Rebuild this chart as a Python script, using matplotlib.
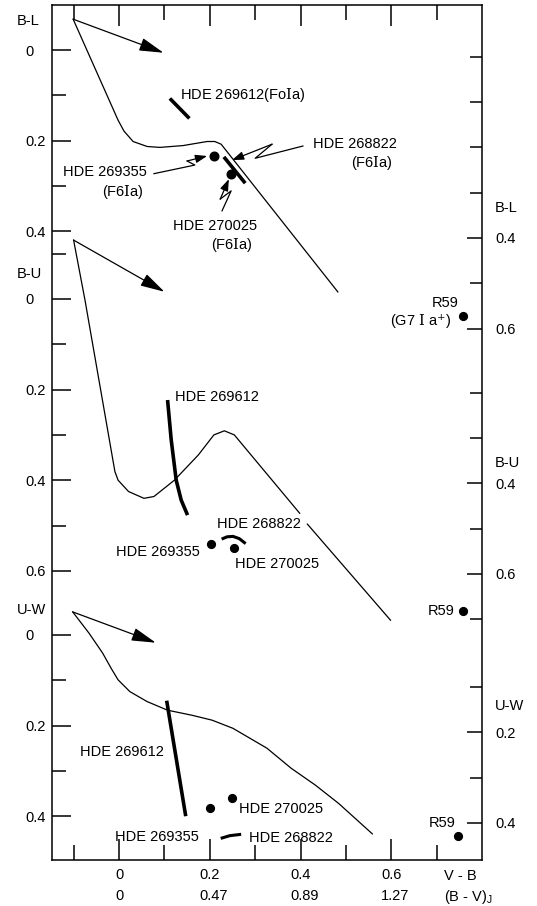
import numpy as np
import matplotlib
matplotlib.use("Agg")
import matplotlib.pyplot as plt
from matplotlib import transforms

plt.rcParams["font.family"] = ["Liberation Sans", "DejaVu Sans"]
plt.rcParams["font.size"] = 10.5
plt.rcParams["mathtext.fontset"] = "dejavuserif"  # o "I" romano com serifa

nan = np.nan

# eixo horizontal (V - B) e escala equivalente (B - V)_J
XTICKS_MAJOR = [0, 0.2, 0.4, 0.6]
XTICKS_MINOR = [-0.1, 0.1, 0.3, 0.5, 0.7]
XLABELS_VB = ["0", "0.2", "0.4", "0.6"]
XLABELS_BVJ = ["0", "0.47", "0.89", "1.27"]

# ---- painel B-L ----
BL_CURVE_X = [-0.101, -0.002, 0.011, 0.031, 0.062, 0.090, 0.141, 0.194, 0.211, 0.225, 0.240, 0.482]
BL_CURVE_Y = [-0.068, 0.155, 0.179, 0.202, 0.213, 0.215, 0.211, 0.202, 0.202, 0.208, 0.227, 0.534]
BL_ARROW_TIP = (0.098, 0.006)
BL_269612_X = [0.112, 0.155]
BL_269612_Y = [0.107, 0.151]
BL_268822_X = [0.231, 0.278]
BL_268822_Y = [0.236, 0.294]
BL_DOTS_X = [0.210, 0.247]          # HDE 269355, HDE 270025
BL_DOTS_Y = [0.234, 0.273]
BL_R59 = (0.757, 0.572)             # escala da direita
# setas em zigue-zague (rotulo -> estrela)
BL_Z269355_X = [0.077, 0.167, 0.150, 0.194]
BL_Z269355_Y = [0.273, 0.254, 0.245, 0.234]
BL_Z268822_X = [0.405, 0.300, 0.337, 0.249]
BL_Z268822_Y = [0.212, 0.239, 0.208, 0.243]
BL_Z270025_X = [0.227, 0.247, 0.223, 0.242]
BL_Z270025_Y = [0.355, 0.311, 0.329, 0.285]

# ---- painel B-U ----
BU_CURVE_X = [-0.100, -0.075, -0.009, -0.002, 0.021, 0.055, 0.077, 0.122, 0.175, 0.209, 0.232, 0.254, 0.398, nan, 0.415, 0.598]
BU_CURVE_Y = [-0.130, 0.002, 0.381, 0.400, 0.425, 0.440, 0.436, 0.400, 0.344, 0.300, 0.291, 0.300, 0.473, nan, 0.497, 0.709]
BU_ARROW_TIP = (0.100, -0.016)
BU_269612_X = [0.107, 0.115, 0.126, 0.137, 0.151]
BU_269612_Y = [0.223, 0.311, 0.400, 0.444, 0.477]
BU_268822_X = [0.226, 0.238, 0.251, 0.265, 0.279]
BU_268822_Y = [0.530, 0.525, 0.524, 0.529, 0.540]
BU_DOTS_X = [0.203, 0.253]
BU_DOTS_Y = [0.541, 0.550]
BU_R59 = (0.757, 0.683)

# ---- painel U-W ----
UW_CURVE_X = [-0.102, -0.066, -0.036, -0.017, -0.002, 0.024, 0.062, 0.107, 0.160, 0.205, 0.251, 0.326, 0.379, 0.432, 0.484, 0.558]
UW_CURVE_Y = [-0.051, -0.004, 0.040, 0.074, 0.099, 0.125, 0.147, 0.166, 0.177, 0.188, 0.206, 0.250, 0.294, 0.331, 0.372, 0.439]
UW_ARROW_TIP = (0.081, 0.017)
UW_269612_X = [0.105, 0.147]
UW_269612_Y = [0.145, 0.400]
UW_268822_X = [0.224, 0.244, 0.269]
UW_268822_Y = [0.449, 0.443, 0.440]
UW_DOTS_X = [0.201, 0.249]
UW_DOTS_Y = [0.381, 0.359]
UW_R59 = (0.747, 0.428)

# geometria da figura (pixels da imagem original)
W, H = 537, 906
BOX_L, BOX_R, BOX_T, BOX_B = 51.7, 481.7, 4.5, 860.0
X0_PX, PX_X, PX_Y = 119.0, 454.0, 453.0

LW_FINO = 0.9
LW_GROSSO = 2.6
MS = 5.6

fig = plt.figure(figsize=(W / 100, H / 100), dpi=100)
pos = [BOX_L / W, 1 - BOX_B / H, (BOX_R - BOX_L) / W, (BOX_B - BOX_T) / H]

ax0 = fig.add_axes(pos)
ax0.set_xlim((BOX_L - X0_PX) / PX_X, (BOX_R - X0_PX) / PX_X)
ax0.set_ylim(0, 1)
ax0.set_yticks([])
for s in ax0.spines.values():
    s.set_linewidth(1.1)
ax0.set_xticks(XTICKS_MAJOR, XLABELS_VB)
ax0.set_xticks(XTICKS_MINOR, minor=True)
ax0.tick_params(axis="x", which="both", direction="in", top=True, bottom=True,
                width=1.1, pad=6)
ax0.tick_params(axis="x", which="major", length=15)
ax0.tick_params(axis="x", which="minor", length=11)


def fmt(v):
    return "0" if v == 0 else f"{v:g}"


def painel(zero_px, shift, left_major, left_minor, right_major, right_minor):
    """Cria um eixo transparente sobreposto com a escala vertical do painel."""
    ax = fig.add_axes(pos, sharex=ax0)
    ax.patch.set_visible(False)
    for s in ax.spines.values():
        s.set_visible(False)
    ax.set_ylim((BOX_B - zero_px) / PX_Y, (BOX_T - zero_px) / PX_Y)
    ax.tick_params(axis="x", which="both", bottom=False, top=False,
                   labelbottom=False, labeltop=False)
    ax.set_yticks(left_major, [fmt(v) for v in left_major])
    ax.set_yticks(left_minor, minor=True)
    ax.tick_params(axis="y", which="both", direction="in", width=1.1, pad=19.2)
    ax.tick_params(axis="y", which="major", length=14)
    ax.tick_params(axis="y", which="minor", length=10)
    plt.setp(ax.get_yticklabels(), ha="left")

    axr = ax.twinx()
    axr.patch.set_visible(False)
    for s in axr.spines.values():
        s.set_visible(False)
    lo, hi = ax.get_ylim()
    axr.set_ylim(lo - shift, hi - shift)
    axr.set_yticks(right_major, [fmt(v) for v in right_major])
    axr.set_yticks(right_minor, minor=True)
    axr.tick_params(axis="y", which="both", direction="in", width=1.1, pad=9.6)
    axr.tick_params(axis="y", which="major", length=11)
    axr.tick_params(axis="y", which="minor", length=9)
    return ax, axr


def seta_grande(ax, x0, y0, tip):
    ax.annotate("", xy=tip, xytext=(x0, y0),
                arrowprops=dict(arrowstyle="-|>,head_length=1.0,head_width=0.27",
                                mutation_scale=15, lw=LW_FINO, color="k",
                                shrinkA=0, shrinkB=0))


def raio(ax, xs, ys):
    """Seta em zigue-zague ligando o rotulo a estrela."""
    ax.plot(xs[:-1], ys[:-1], color="k", lw=LW_FINO)
    ax.annotate("", xy=(xs[-1], ys[-1]), xytext=(xs[-2], ys[-2]),
                arrowprops=dict(arrowstyle="-|>,head_length=0.7,head_width=0.25",
                                mutation_scale=10, lw=LW_FINO, color="k",
                                shrinkA=0, shrinkB=0))


def rotulo_lado(ax, axr, nome, y_left, y_right):
    tl = transforms.blended_transform_factory(ax.transAxes, ax.transData)
    tr = transforms.blended_transform_factory(axr.transAxes, axr.transData)
    ax.text((17 - BOX_L) / (BOX_R - BOX_L), y_left, nome, transform=tl,
            ha="left", va="center")
    axr.text((494.5 - BOX_L) / (BOX_R - BOX_L), y_right, nome, transform=tr,
             ha="left", va="center")


Ia = r"$\mathrm{I}$a"
F6 = "(F6" + Ia + ")"

# ---------------- B-L ----------------
axL, axLr = painel(50.0, 0.0148, [0, 0.2, 0.4], [0.1, 0.3], [0.4, 0.6], [0, 0.1, 0.2, 0.3, 0.5])
axL.plot(BL_CURVE_X, BL_CURVE_Y, color="k", lw=LW_FINO)
seta_grande(axL, BL_CURVE_X[0], BL_CURVE_Y[0], BL_ARROW_TIP)
axL.plot(BL_269612_X, BL_269612_Y, color="k", lw=LW_GROSSO, solid_capstyle="butt")
axL.plot(BL_268822_X, BL_268822_Y, color="k", lw=LW_GROSSO, solid_capstyle="butt")
axL.plot(BL_DOTS_X, BL_DOTS_Y, "o", color="k", ms=MS + 0.6)
raio(axL, BL_Z269355_X, BL_Z269355_Y)
raio(axL, BL_Z268822_X, BL_Z268822_Y)
raio(axL, BL_Z270025_X, BL_Z270025_Y)
axLr.plot([BL_R59[0]], [BL_R59[1]], "o", color="k", ms=MS)
axL.text(0.1335, 0.099, "HDE 269612(Fo" + Ia + ")", va="center")
axL.text(-0.1227, 0.269, "HDE 269355", va="center")
axL.text(-0.0381, 0.313, F6, va="center")
axL.text(0.4273, 0.208, "HDE 268822", va="center")
axL.text(0.511, 0.250, F6, va="center")
axL.text(0.1196, 0.3885, "HDE 270025", va="center")
axL.text(0.202, 0.4305, F6, va="center")
axLr.text(0.6894, 0.544, "R59", va="center")
axLr.text(0.5969, 0.583, r"(G7 $\mathrm{I}$ a$^{+}$)", va="center")
rotulo_lado(axL, axLr, "B-L", -0.063, 0.333)

# ---------------- B-U ----------------
axU, axUr = painel(299.0, 0.0068, [0, 0.2, 0.4, 0.6], [-0.1, 0.1, 0.3, 0.5], [0.4, 0.6], [0.2, 0.3, 0.5, 0.7])
axU.plot(BU_CURVE_X, BU_CURVE_Y, color="k", lw=LW_FINO)
seta_grande(axU, BU_CURVE_X[0], BU_CURVE_Y[0], BU_ARROW_TIP)
axU.plot(BU_269612_X, BU_269612_Y, color="k", lw=LW_GROSSO, solid_capstyle="butt")
axU.plot(BU_268822_X, BU_268822_Y, color="k", lw=LW_GROSSO - 0.4, solid_capstyle="butt")
axU.plot(BU_DOTS_X, BU_DOTS_Y, "o", color="k", ms=MS)
axUr.plot([BU_R59[0]], [BU_R59[1]], "o", color="k", ms=MS)
axU.text(0.1225, 0.2157, "HDE 269612", va="center")
axU.text(0.2167, 0.4974, "HDE 268822", va="center")
axU.text(-0.0073, 0.5578, "HDE 269355", va="center")
axU.text(0.2566, 0.5857, "HDE 270025", va="center")
axUr.text(0.6806, 0.681, "R59", va="center")
rotulo_lado(axU, axUr, "B-U", -0.055, 0.3545)

# ---------------- U-W ----------------
axW, axWr = painel(635.0, 0.015, [0, 0.2, 0.4], [0.1, 0.3], [0.2, 0.4], [0.1, 0.3])
axW.plot(UW_CURVE_X, UW_CURVE_Y, color="k", lw=LW_FINO)
seta_grande(axW, UW_CURVE_X[0], UW_CURVE_Y[0], UW_ARROW_TIP)
axW.plot(UW_269612_X, UW_269612_Y, color="k", lw=LW_GROSSO, solid_capstyle="butt")
axW.plot(UW_268822_X, UW_268822_Y, color="k", lw=LW_GROSSO - 0.4, solid_capstyle="butt")
axW.plot(UW_DOTS_X, UW_DOTS_Y, "o", color="k", ms=MS)
axWr.plot([UW_R59[0]], [UW_R59[1]], "o", color="k", ms=MS)
axW.text(-0.085, 0.2576, "HDE 269612", va="center")
axW.text(0.2634, 0.3848, "HDE 270025", va="center")
axW.text(-0.0079, 0.4453, "HDE 269355", va="center")
axW.text(0.287, 0.4481, "HDE 268822", va="center")
axWr.text(0.6813, 0.3993, "R59", va="center")
rotulo_lado(axW, axWr, "U-W", -0.055, 0.1417)

# ---- legendas do eixo x: segunda linha alinhada a esquerda da primeira ----
tb = transforms.blended_transform_factory(ax0.transData, ax0.transAxes)
y_lin1 = (BOX_B - 876) / (BOX_B - BOX_T)
y_lin2 = (BOX_B - 896.5) / (BOX_B - BOX_T)
fig.canvas.draw()
for lab, txt in zip(ax0.get_xticklabels(), XLABELS_BVJ):
    bb = lab.get_window_extent()
    x_esq = ax0.transData.inverted().transform((bb.x0, bb.y0))[0]
    ax0.text(x_esq, y_lin2, txt, transform=tb, ha="left", va="center")
x_vb = (444.5 - X0_PX) / PX_X
ax0.text(x_vb, y_lin1, "V - B", transform=tb, ha="left", va="center")
ax0.text(x_vb, y_lin2, r"(B - V)$_\mathregular{J}$", transform=tb, ha="left", va="center")

fig.savefig("out.png", dpi=100)
